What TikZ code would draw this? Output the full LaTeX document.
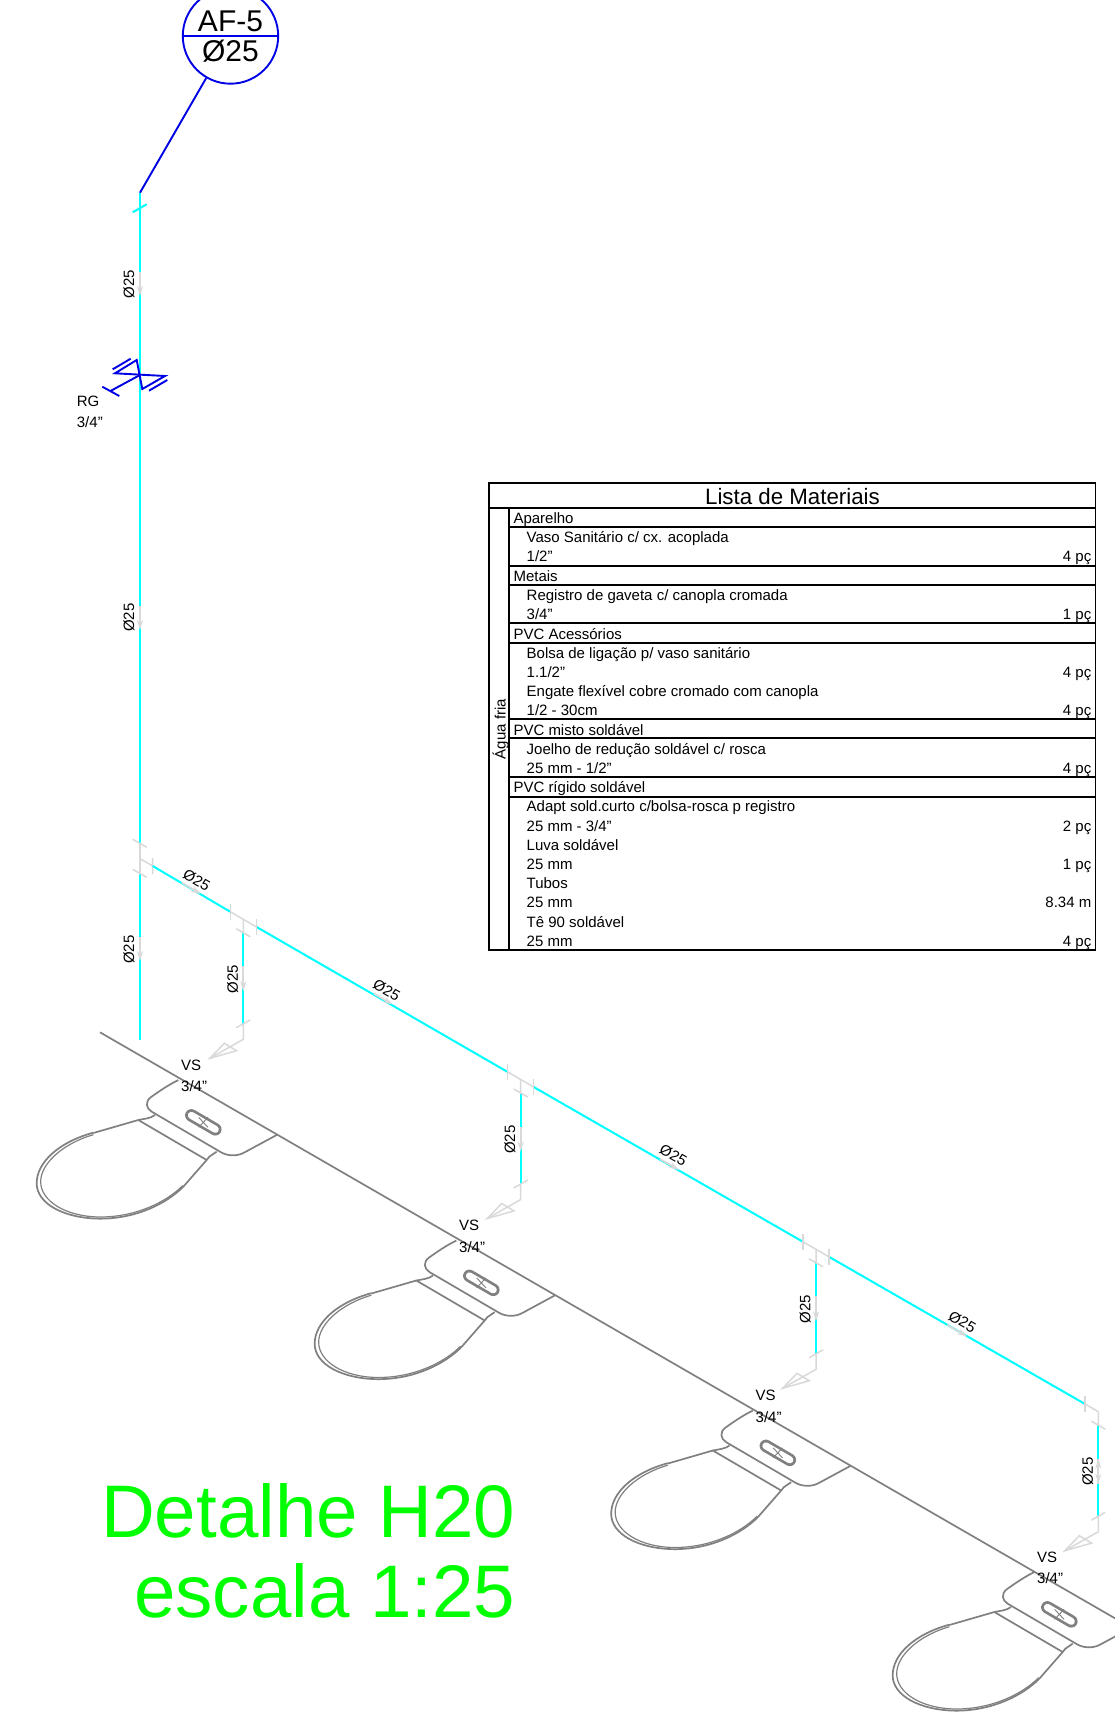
\documentclass[tikz,border=0pt]{standalone}
\usepackage{fontspec}
\setmainfont{Liberation Sans}
\usetikzlibrary{calc,arrows.meta}
\definecolor{pipecyan}{HTML}{00FFFF}
\definecolor{tagblue}{HTML}{0000E6}
\definecolor{fitgray}{HTML}{D9D9D9}
\definecolor{sangray}{HTML}{808080}
\definecolor{titlegreen}{HTML}{00FF00}
\tikzset{
  pipe/.style={draw=pipecyan,line width=2pt},
  fitting/.style={draw=fitgray,line width=1.5pt},
  flow/.style={draw=fitgray,line width=1.8pt,-{Stealth[length=10pt,width=6pt,fill=fitgray]}},
  tagline/.style={draw=tagblue,line width=1.9pt},
  sanline/.style={draw=sangray,line width=1.7pt},
  tabline/.style={draw=black,line width=1.8pt},
  dimlabel/.style={font=\fontsize{15}{15}\selectfont,inner sep=0pt},
  txtl/.style={font=\fontsize{15}{15}\selectfont,inner sep=0pt,anchor=base west},
  txtr/.style={font=\fontsize{15}{15}\selectfont,inner sep=0pt,anchor=base east},
  bigtxt/.style={font=\fontsize{74.5}{74.5}\selectfont,text=titlegreen,inner sep=0pt,anchor=base east},
}
% zoomed-in drawing units: thirds of a pixel
\newcommand{\toiletfig}[3]{%
  \begin{scope}[shift={(20+#2,1040+#3)},scale=1/3]
    \draw[sanline] (475,120) .. controls (445,135) and (420,152) .. (392,172)
      .. controls (375,185) and (378,205) .. (395,215) -- (600,335)
      .. controls (620,348) and (650,350) .. (672,338) -- (770,285);
    \draw[sanline] (405,225) .. controls (392,235) and (375,236) .. (355,240) -- (220,279);
    \draw[sanline] (355,240) -- (560,360);
    \draw[sanline] (590,335) -- (568,350) -- (560,360) -- (490,440);
    \draw[sanline] (220,278) .. controls (120,305) and (50,365) .. (50,430)
      .. controls (50,490) and (130,535) .. (240,536)
      .. controls (350,536) and (440,490) .. (490,440);
    \draw[sanline,line width=1.2pt] (220,284) .. controls (130,310) and (62,370) .. (62,425)
      .. controls (62,482) and (135,530) .. (240,531)
      .. controls (350,531) and (440,485) .. (488,437);
    \draw[draw=sangray,line width=12.5pt,line cap=round] (514,226) -- (586,268);
    \draw[draw=white,line width=7pt,line cap=round] (514,226) -- (586,268);
    \draw[draw=sangray,line width=.9pt] (536,232) -- (564,262) (536,262) -- (564,232);
  \end{scope}
  \node[txtl] (#1vs) at (181+#2,1070+#3) {VS};
  \node[txtl] (#1sz) at (181+#2,1091.7+#3) {3/4"};
}
% downstream run of a branch: J is the branch point on the main pipe
\newcommand{\droptail}[1]{%
  \coordinate (#1up) at ($(#1)+(0,13.5)$);
  \coordinate (#1lo) at ($(#1)+(0,104.5)$);
  \coordinate (#1co) at ($(#1)+(0,120)$);
  \coordinate (#1tip) at ($(#1co)+(-33.4,19)$);
  \path[pipe] (#1up) -- (#1lo);
  \path[fitting] (#1) -- (#1up) ($(#1up)+(-7,-4)$) -- ($(#1up)+(7,4)$);
  \path[fitting] (#1lo) -- (#1co) -- (#1tip) ($(#1lo)+(-7,4)$) -- ($(#1lo)+(7,-4)$);
  \path[fitting] ($(#1co)+(-19,4)$) -- (#1tip) -- ($(#1co)+(-6.7,11.4)$) -- cycle;
  \path[flow] ($(#1)+(0,47)$) -- ($(#1)+(0,72)$);
  \node[dimlabel,rotate=90] (#1dim) at ($(#1)+(-10.7,60)$) {Ø25};
}
\begin{document}
\begin{tikzpicture}[x=1pt,y=-1pt]
\useasboundingbox (0,0) rectangle (1115,1723);
\fill[white] (0,0) rectangle (1115,1723);

% sanitary wall line
\coordinate (wallA) at (100,1032.3);
\coordinate (wallB) at (1115,1618.3);
\draw[sanline] (wallA) -- (wallB);

% fixtures
\toiletfig{wca}{0}{0}
\toiletfig{wcb}{278}{160.5}
\toiletfig{wcc}{574.5}{330.5}
\toiletfig{wcd}{856}{492}

% tag and leader
\node[circle,draw=tagblue,line width=1.9pt,minimum size=95.4pt,inner sep=0pt] (tag) at (230.5,36) {};
\draw[tagline] (tag.west) -- (tag.east);
\node[font=\fontsize{30}{30}\selectfont,inner sep=0pt,anchor=base] (tagtop) at (230.5,31.7) {AF-5};
\node[font=\fontsize{30}{30}\selectfont,inner sep=0pt,anchor=base] (tagbot) at (230.5,61.7) {Ø25};
\coordinate (riserTop) at (140,192.7);
\draw[tagline] (tag) -- (riserTop);

% riser
\coordinate (riserEnd) at (140,1040);
\coordinate (upperFit) at (140,843);
\coordinate (lowerFit) at (140,873.3);
\coordinate (teeA) at (140,858.7);
\path[pipe] (riserTop) -- (upperFit);
\path[pipe] (lowerFit) -- (riserEnd);
\path[pipe] (132.7,212.3) -- (146.7,204.3);
\path[fitting] (upperFit) -- (lowerFit);
\path[fitting] (132.7,839.3) -- (146.7,847.3) (132.7,869.3) -- (146.7,877.3);
\path[fitting] (teeA) -- (152.7,866) (152.7,858) -- (152.7,874);
\path[flow] (140,272) -- (140,296);
\path[flow] (140,606) -- (140,630);
\path[flow] (140,937) -- (140,961);
\node[dimlabel,rotate=90] (rd1) at (129,284) {Ø25};
\node[dimlabel,rotate=90] (rd2) at (129,617.5) {Ø25};
\node[dimlabel,rotate=90] (rd3) at (129,949.5) {Ø25};

% valve
\draw[tagline] (115,373.3) -- (136.7,360) -- (142.3,389) -- (165,376) -- cycle;
\draw[tagline] (112.7,369.3) -- (130.7,358.7);
\draw[tagline] (149,390.7) -- (167.3,380);
\draw[tagline] (140,375) -- (111,390.7) (102.3,386.7) -- (119.3,396);
\node[txtl] (rgname) at (76.7,406) {RG};
\node[txtl] (rgsize) at (76.7,427.3) {3/4"};

% horizontal main with branch points
\coordinate (bra) at (243.3,919.3);
\coordinate (brb) at (520.7,1079.5);
\coordinate (brc) at (816,1249.3);
\coordinate (brd) at (1098.3,1411.7);
\path[pipe] (152.7,866) -- ($(bra)+(-13,-7.5)$);
\path[pipe] ($(bra)+(13,7.5)$) -- ($(brb)+(-13,-7.5)$);
\path[pipe] ($(brb)+(13,7.5)$) -- ($(brc)+(-13,-7.5)$);
\path[pipe] ($(brc)+(13,7.5)$) -- ($(brd)+(-13.3,-7.7)$);
\foreach \b in {bra,brb,brc}{
  \path[fitting] ($(\b)+(-13,-7.5)$) -- ($(\b)+(13,7.5)$);
  \path[fitting] ($(\b)+(-13,-15.5)$) -- ($(\b)+(-13,.5)$);
  \path[fitting] ($(\b)+(13,-.5)$) -- ($(\b)+(13,15.5)$);
}
\path[fitting] ($(brd)+(-13.3,-7.7)$) -- (brd);
\path[fitting] ($(brd)+(-13.3,-15.5)$) -- ($(brd)+(-13.3,.5)$);
\droptail{bra}
\droptail{brb}
\droptail{brc}
\droptail{brd}
\path[flow] ($(brd)+(0,72)$) -- ($(brd)+(0,47)$);

% arrows and labels along the main
\path[flow] (181.7,882.7) -- (200.7,894);
\path[flow] (373.7,993.5) -- (392.7,1004.5);
\path[flow] (660,1159) -- (679,1170);
\path[flow] (947.3,1325) -- (967.3,1336.5);
\node[dimlabel,rotate=-30] (md1) at (196.7,880) {Ø25};
\node[dimlabel,rotate=-30] (md2) at (386.7,990) {Ø25};
\node[dimlabel,rotate=-30] (md3) at (673.3,1155) {Ø25};
\node[dimlabel,rotate=-30] (md4) at (962.3,1321.7) {Ø25};

% materials table
\draw[tabline] (489.3,483.3) rectangle (1095.5,950);
\draw[tabline] (489.3,507.7) -- (1095.5,507.7);
\draw[tabline] (509.3,507.7) -- (509.3,950);
\foreach \yy in {527.3,566,585,623.3,642.7,719.3,738.3,777.3,796.7}{
  \draw[tabline] (509.3,\yy) -- (1095.5,\yy);
}
\node[font=\fontsize{22.3}{22.3}\selectfont,inner sep=0pt,anchor=base] (title) at (792.5,504) {Lista de Materiais};
\node[font=\fontsize{15}{15}\selectfont,inner sep=0pt,rotate=90,anchor=base] (agua) at (505.5,729) {Água fria};

\node[txtl] (h1) at (513.3,523.3) {Aparelho};
\node[txtl] (a1) at (526.5,542.3) {Vaso Sanitário c/ cx. acoplada};
\node[txtl] (a2) at (526.5,561.7) {1/2"};
\node[txtr] (qa) at (1091.5,561.7) {4 pç};
\node[txtl] (h2) at (513.3,581.7) {Metais};
\node[txtl] (b1) at (526.5,600.3) {Registro de gaveta c/ canopla cromada};
\node[txtl] (b2) at (526.5,619.3) {3/4"};
\node[txtr] (qb) at (1091.5,619.3) {1 pç};
\node[txtl] (h3) at (513.3,639) {PVC Acessórios};
\node[txtl] (c1) at (526.5,658.3) {Bolsa de ligação p/ vaso sanitário};
\node[txtl] (c2) at (526.5,677.3) {1.1/2"};
\node[txtr] (qc) at (1091.5,677.3) {4 pç};
\node[txtl] (c3) at (526.5,696.7) {Engate flexível cobre cromado com canopla};
\node[txtl] (c4) at (526.5,715.7) {1/2 - 30cm};
\node[txtr] (qd) at (1091.5,715.7) {4 pç};
\node[txtl] (h4) at (513.3,735) {PVC misto soldável};
\node[txtl] (d1) at (526.5,754) {Joelho de redução soldável c/ rosca};
\node[txtl] (d2) at (526.5,773.3) {25 mm - 1/2"};
\node[txtr] (qe) at (1091.5,773.3) {4 pç};
\node[txtl] (h5) at (513.3,792.3) {PVC rígido soldável};
\node[txtl] (e1) at (526.5,811.7) {Adapt sold.curto c/bolsa-rosca p registro};
\node[txtl] (e2) at (526.5,831) {25 mm - 3/4"};
\node[txtr] (qf) at (1091.5,831) {2 pç};
\node[txtl] (e3) at (526.5,850) {Luva soldável};
\node[txtl] (e4) at (526.5,869.3) {25 mm};
\node[txtr] (qg) at (1091.5,869.3) {1 pç};
\node[txtl] (e5) at (526.5,888.3) {Tubos};
\node[txtl] (e6) at (526.5,907.7) {25 mm};
\node[txtr] (qh) at (1091.5,907.7) {8.34 m};
\node[txtl] (e7) at (526.5,927.3) {Tê 90 soldável};
\node[txtl] (e8) at (526.5,946.7) {25 mm};
\node[txtr] (qi) at (1091.5,946.7) {4 pç};

% caption
\node[bigtxt] (capa) at (515.5,1537.3) {Detalhe H20};
\node[bigtxt] (capb) at (515.5,1617.3) {escala 1:25};
\end{tikzpicture}
\end{document}
